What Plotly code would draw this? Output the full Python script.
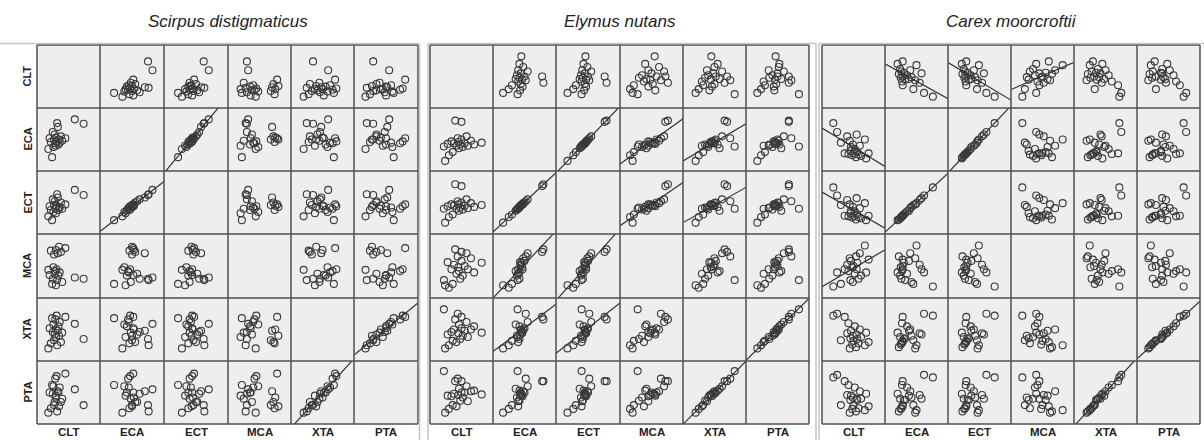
import numpy as np
import plotly.graph_objects as go

VARS = ["CLT", "ECA", "ECT", "MCA", "XTA", "PTA"]
SPECIES = ["Scirpus distigmaticus", "Elymus nutans", "Carex moorcroftii"]

# ---- Scirpus distigmaticus (relative units, 0-100) ----
scirpus_CLT = [74, 60, 45, 40, 38, 36, 35, 34, 33, 32, 31, 30, 30, 29, 28, 27, 26, 25, 24, 22, 20, 18]
scirpus_ECA = [75, 82, 52, 48, 55, 45, 50, 42, 70, 76, 47, 53, 40, 44, 58, 50, 38, 62, 22, 46, 52, 35]
scirpus_ECT = [62, 70, 47, 40, 50, 42, 43, 38, 58, 63, 44, 45, 33, 40, 52, 46, 35, 55, 22, 38, 44, 28]
scirpus_MCA = [30, 32, 78, 25, 72, 40, 80, 35, 70, 28, 45, 75, 20, 42, 38, 68, 48, 30, 22, 74, 36, 44]
scirpus_XTA = [35, 59, 70, 45, 30, 62, 40, 55, 48, 25, 72, 50, 38, 66, 42, 33, 58, 46, 68, 28, 52, 20]
scirpus_PTA = [30, 55, 80, 40, 35, 58, 28, 50, 52, 20, 76, 42, 45, 72, 35, 30, 60, 48, 62, 25, 50, 18]

# ---- Elymus nutans ----
elymus_CLT = [82, 70, 65, 60, 58, 55, 52, 50, 50, 48, 46, 45, 44, 42, 40, 38, 36, 34, 30, 28, 24, 22]
elymus_ECA = [45, 42, 48, 40, 55, 44, 38, 78, 50, 42, 36, 46, 52, 40, 80, 44, 30, 47, 25, 43, 16, 39]
elymus_ECT = [46, 43, 49, 41, 55, 45, 39, 76, 50, 42, 37, 47, 52, 40, 79, 45, 31, 47, 27, 44, 18, 40]
elymus_MCA = [55, 40, 62, 45, 70, 50, 35, 72, 58, 30, 42, 48, 65, 38, 76, 52, 22, 45, 16, 56, 20, 28]
elymus_XTA = [45, 55, 50, 38, 62, 48, 40, 70, 52, 35, 58, 44, 75, 30, 66, 50, 32, 46, 25, 42, 20, 82]
elymus_PTA = [47, 53, 52, 36, 60, 50, 42, 68, 50, 37, 56, 46, 72, 28, 68, 48, 30, 44, 24, 45, 18, 84]

# ---- Carex moorcroftii ----
carex_CLT = [74, 70, 68, 62, 60, 58, 56, 55, 54, 52, 50, 49, 48, 46, 45, 44, 42, 40, 36, 30, 24, 18]
carex_ECA = [28, 20, 50, 24, 40, 26, 30, 58, 22, 35, 28, 42, 25, 38, 32, 48, 27, 55, 28, 45, 62, 76]
carex_ECT = [29, 22, 49, 25, 41, 27, 31, 57, 23, 36, 29, 43, 26, 37, 33, 47, 28, 54, 29, 46, 61, 74]
carex_MCA = [60, 40, 82, 35, 70, 30, 55, 45, 65, 38, 50, 25, 48, 58, 28, 62, 42, 52, 45, 22, 40, 18]
carex_XTA = [30, 45, 25, 38, 50, 28, 35, 42, 22, 55, 32, 40, 26, 48, 36, 20, 60, 44, 70, 33, 75, 72]
carex_PTA = [28, 48, 22, 40, 52, 25, 38, 40, 20, 58, 30, 42, 24, 45, 38, 18, 62, 46, 68, 30, 78, 74]

DATA = [
    dict(zip(VARS, [scirpus_CLT, scirpus_ECA, scirpus_ECT, scirpus_MCA, scirpus_XTA, scirpus_PTA])),
    dict(zip(VARS, [elymus_CLT, elymus_ECA, elymus_ECT, elymus_MCA, elymus_XTA, elymus_PTA])),
    dict(zip(VARS, [carex_CLT, carex_ECA, carex_ECT, carex_MCA, carex_XTA, carex_PTA])),
]

# pairs with a fitted line
FIT_PAIRS = [
    [("ECA", "ECT"), ("XTA", "PTA")],
    [("ECA", "ECT"), ("ECA", "MCA"), ("ECA", "XTA"), ("ECT", "MCA"), ("ECT", "XTA"), ("XTA", "PTA")],
    [("CLT", "ECA"), ("CLT", "ECT"), ("CLT", "MCA"), ("ECA", "ECT"), ("XTA", "PTA")],
]

W, H = 1204, 440
PANEL_LEFT = [37, 430, 822]
PANEL_RIGHT = [418, 809, 1200]
TOP, BOTTOM = 45, 424
AX_RANGE = [0, 100]

ROW_EDGES = [round(v) for v in np.linspace(TOP, BOTTOM, 7)]


def px(x):
    return x / W


def py(y):
    return (H - y) / H


fig = go.Figure()
layout = {}
shapes = []
grid = dict(type="line", xref="paper", yref="paper", layer="above",
            line=dict(color="#4f4f4f", width=1.5))
k = 0
for p in range(3):
    col_edges = [round(v) for v in np.linspace(PANEL_LEFT[p], PANEL_RIGHT[p], 7)]
    for e in col_edges:
        shapes.append(dict(grid, x0=px(e), x1=px(e), y0=py(TOP), y1=py(BOTTOM)))
    for e in ROW_EDGES:
        shapes.append(dict(grid, x0=px(PANEL_LEFT[p]), x1=px(PANEL_RIGHT[p]), y0=py(e), y1=py(e)))
    fits = set()
    for a, b in FIT_PAIRS[p]:
        fits.add((a, b)); fits.add((b, a))
    for i in range(6):
        for j in range(6):
            k += 1
            xn = "x" if k == 1 else f"x{k}"
            yn = "y" if k == 1 else f"y{k}"
            xk = "xaxis" if k == 1 else f"xaxis{k}"
            yk = "yaxis" if k == 1 else f"yaxis{k}"
            x0, x1 = col_edges[j], col_edges[j + 1]
            y0, y1 = ROW_EDGES[i], ROW_EDGES[i + 1]
            common = dict(range=AX_RANGE, showticklabels=False, showgrid=False, zeroline=False,
                          showline=False, ticks="", fixedrange=True)
            layout[xk] = dict(domain=[x0 / W, x1 / W], anchor=yn, **common)
            layout[yk] = dict(domain=[(H - y1) / H, (H - y0) / H], anchor=xn, **common)
            if i == j:
                fig.add_trace(go.Scatter(x=[None], y=[None], mode="markers", xaxis=xn, yaxis=yn,
                                         showlegend=False, hoverinfo="skip"))
                continue
            xv = np.array(DATA[p][VARS[j]], dtype=float)
            yv = np.array(DATA[p][VARS[i]], dtype=float)
            fig.add_trace(go.Scatter(
                x=xv, y=yv, mode="markers", xaxis=xn, yaxis=yn, showlegend=False, hoverinfo="skip",
                marker=dict(symbol="circle-open", size=7, color="#3a3a3a", line=dict(width=1.1))))
            if (VARS[i], VARS[j]) in fits:
                m, c = np.polyfit(xv, yv, 1)
                lx = np.array(AX_RANGE, dtype=float)
                fig.add_trace(go.Scatter(
                    x=lx, y=m * lx + c, mode="lines", xaxis=xn, yaxis=yn, showlegend=False,
                    hoverinfo="skip", line=dict(color="#333333", width=1.2)))

annotations = []
for p in range(3):
    cx = (PANEL_LEFT[p] + PANEL_RIGHT[p]) / 2
    annotations.append(dict(x=px(cx), y=py(21), xref="paper", yref="paper", text=f"<i>{SPECIES[p]}</i>",
                            showarrow=False, xanchor="center", yanchor="middle",
                            font=dict(family="Liberation Sans, Arial", size=17, color="#222222")))
    col_edges = [round(v) for v in np.linspace(PANEL_LEFT[p], PANEL_RIGHT[p], 7)]
    for j, v in enumerate(VARS):
        annotations.append(dict(x=px((col_edges[j] + col_edges[j + 1]) / 2), y=py(432),
                                xref="paper", yref="paper",
                                text=f"<b>{v}</b>", showarrow=False, xanchor="center", yanchor="middle",
                                borderpad=0,
                                font=dict(family="Liberation Sans, Arial", size=11.5, color="#222222")))
for i, v in enumerate(VARS):
    annotations.append(dict(x=px(27), y=py((ROW_EDGES[i] + ROW_EDGES[i + 1]) / 2), xref="paper", yref="paper",
                            text=f"<b>{v}</b>", showarrow=False, textangle=-90, xanchor="center",
                            yanchor="middle",
                            font=dict(family="Liberation Sans, Arial", size=11, color="#222222")))

frame = dict(type="line", xref="paper", yref="paper", line=dict(color="#c4c4c4", width=1.5))
for (xa, xb) in [(0, 419), (428, 816), (819, 1204)]:
    shapes.append(dict(frame, x0=px(xa), x1=px(xb), y0=py(43.5), y1=py(43.5)))
for xv in [419.5, 428, 816, 819]:
    shapes.append(dict(frame, x0=px(xv), x1=px(xv), y0=py(43.5), y1=py(440)))

fig.update_layout(width=W, height=H, margin=dict(l=0, r=0, t=0, b=0), paper_bgcolor="white",
                  plot_bgcolor="#eeeeee", annotations=annotations, shapes=shapes, showlegend=False,
                  **layout)
fig.write_html("out.html")
